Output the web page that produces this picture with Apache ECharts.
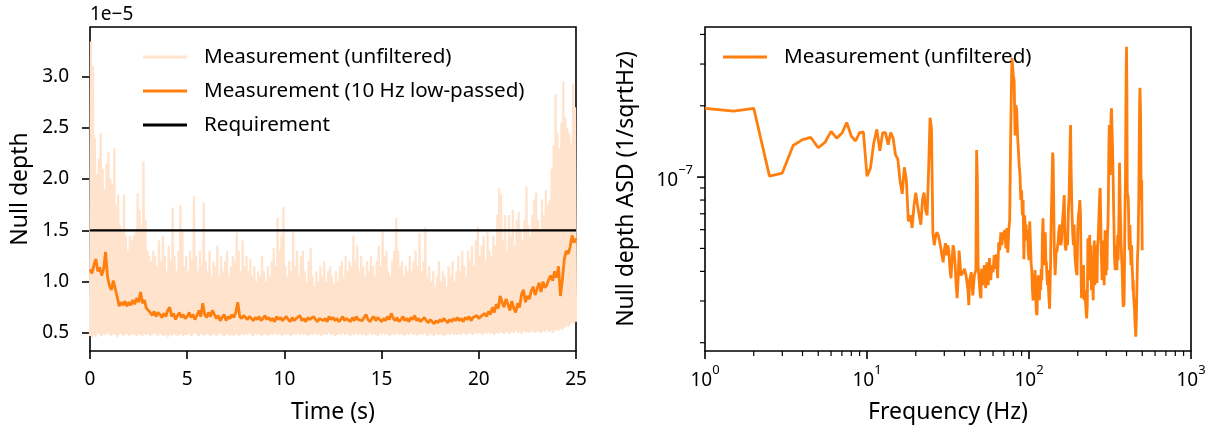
<!DOCTYPE html>
<html><head><meta charset="utf-8">
<script src="https://cdn.jsdelivr.net/npm/echarts@6/dist/echarts.min.js"></script>
<style>html,body{margin:0;padding:0;background:#fff}#c{width:1211px;height:434px}</style>
</head><body><div id="c"></div>
<script>
// ---------- Left panel: null depth time series (values in units of 1e-5) ----------
const timeRange = [0, 25];
const timeTicks = [0, 5, 10, 15, 20, 25];
const nullTicks = [0.5, 1.0, 1.5, 2.0, 2.5, 3.0];
const requirement = 1.5;
const dtUnf = 0.1;   // spacing of envelope samples (s)
const dtFilt = 0.1;  // spacing of low-passed samples (s)

// unfiltered measurement: low excursions (at t = i*0.1) ...
const unfLow = [
0.47,0.45,0.48,0.46,0.50,0.48,0.47,0.49,0.48,0.50,
0.48,0.47,0.49,0.48,0.46,0.48,0.49,0.47,0.48,0.49,
0.47,0.48,0.49,0.48,0.47,0.49,0.48,0.47,0.49,0.48,
0.49,0.47,0.48,0.50,0.48,0.47,0.49,0.48,0.47,0.48,
0.46,0.48,0.47,0.49,0.48,0.47,0.48,0.49,0.47,0.48,
0.48,0.49,0.47,0.48,0.50,0.48,0.47,0.49,0.48,0.47,
0.49,0.48,0.47,0.48,0.49,0.47,0.48,0.50,0.48,0.47,
0.48,0.49,0.47,0.48,0.47,0.49,0.48,0.47,0.49,0.48,
0.49,0.48,0.50,0.48,0.47,0.49,0.48,0.49,0.47,0.48,
0.49,0.48,0.47,0.49,0.48,0.50,0.48,0.49,0.48,0.47,
0.49,0.48,0.49,0.47,0.48,0.49,0.48,0.50,0.48,0.49,
0.48,0.49,0.47,0.48,0.49,0.48,0.50,0.48,0.49,0.47,
0.48,0.49,0.48,0.50,0.48,0.49,0.47,0.48,0.49,0.48,
0.50,0.48,0.49,0.48,0.47,0.49,0.48,0.50,0.48,0.49,
0.48,0.49,0.47,0.48,0.50,0.48,0.49,0.48,0.47,0.49,
0.48,0.50,0.48,0.49,0.47,0.48,0.49,0.48,0.50,0.48,
0.49,0.48,0.47,0.49,0.48,0.50,0.48,0.49,0.47,0.48,
0.49,0.48,0.50,0.48,0.47,0.49,0.48,0.47,0.49,0.48,
0.48,0.49,0.47,0.48,0.49,0.48,0.50,0.48,0.49,0.48,
0.49,0.48,0.50,0.49,0.48,0.50,0.49,0.48,0.50,0.49,
0.50,0.49,0.48,0.50,0.49,0.51,0.49,0.50,0.48,0.50,
0.49,0.51,0.50,0.49,0.51,0.50,0.49,0.51,0.50,0.52,
0.50,0.51,0.49,0.52,0.50,0.51,0.50,0.52,0.51,0.50,
0.52,0.51,0.50,0.52,0.51,0.53,0.51,0.52,0.50,0.52,
0.53,0.52,0.54,0.53,0.55,0.57,0.56,0.58,0.60,0.59,
0.61];
// ... and high excursions (at t = i*0.1 + 0.05)
const unfHigh = [
3.34,3.10,2.40,2.05,2.20,2.45,2.10,1.90,2.15,2.26,
2.00,1.95,2.30,1.75,1.85,1.55,1.50,1.85,1.45,1.30,
1.45,1.40,1.45,1.50,1.86,1.70,1.55,2.17,1.60,1.30,
1.25,1.20,1.30,1.25,1.15,1.40,1.20,1.45,1.25,1.10,
1.35,1.20,1.72,1.25,1.10,1.30,1.75,1.50,1.15,1.25,
1.10,1.30,1.20,1.83,1.25,1.10,1.30,1.15,1.77,1.20,
1.10,1.30,1.05,1.20,1.15,1.35,1.05,1.25,1.10,1.20,
1.30,1.05,1.15,1.25,1.20,1.48,1.30,1.10,1.40,1.15,
1.25,1.10,1.22,1.05,1.15,1.00,1.10,1.05,1.25,1.10,
1.00,1.15,1.05,1.20,1.33,1.15,1.62,1.30,1.45,1.73,
1.15,1.05,1.20,1.10,1.48,1.15,1.30,1.05,1.25,1.30,
1.10,1.00,1.20,1.33,1.05,0.95,1.10,1.00,1.15,1.05,
1.20,1.00,1.10,1.15,1.05,0.98,1.10,1.00,1.15,1.20,
1.05,1.25,1.10,1.20,1.15,1.45,1.20,1.36,1.10,1.25,
1.15,1.05,1.20,1.10,1.25,1.15,1.05,1.20,1.35,1.15,
1.50,1.25,1.30,1.10,1.05,1.20,1.30,1.62,1.30,1.15,
1.20,1.05,1.15,1.10,1.25,1.10,1.20,1.30,1.15,1.47,
1.10,1.20,1.53,1.05,1.15,1.00,1.10,0.95,1.05,1.20,
1.00,1.10,1.05,0.95,1.15,1.05,1.20,1.00,1.10,1.25,
1.10,1.30,1.15,1.05,1.30,1.20,1.35,1.15,1.40,1.53,
1.25,1.35,1.45,1.20,1.50,1.30,1.25,1.45,1.35,1.65,
1.91,1.85,1.40,1.65,1.30,1.65,1.45,1.70,1.35,1.60,
1.68,1.50,1.40,1.60,1.93,1.55,1.45,1.65,1.80,1.87,
1.60,1.50,1.80,1.65,1.89,1.75,1.80,2.10,2.33,2.83,
2.45,2.30,2.55,2.95,2.60,2.50,2.45,2.35,2.93,2.70];

// 10 Hz low-passed measurement (t = i*0.1)
const filtered = [
1.12,1.08,1.16,1.22,1.10,1.14,1.06,1.12,1.29,1.05,
0.96,0.92,1.01,0.93,0.85,0.76,0.80,0.77,0.81,0.76,
0.80,0.77,0.82,0.78,0.84,0.80,0.90,0.79,0.82,0.74,
0.72,0.70,0.67,0.71,0.66,0.70,0.68,0.65,0.69,0.66,
0.72,0.75,0.66,0.69,0.63,0.67,0.70,0.65,0.68,0.64,
0.66,0.70,0.65,0.68,0.63,0.67,0.72,0.66,0.79,0.68,
0.65,0.70,0.66,0.72,0.68,0.64,0.67,0.62,0.65,0.68,
0.62,0.66,0.64,0.68,0.65,0.70,0.80,0.66,0.64,0.67,
0.65,0.63,0.66,0.64,0.62,0.65,0.63,0.66,0.62,0.64,
0.67,0.63,0.65,0.62,0.64,0.61,0.66,0.63,0.65,0.62,
0.64,0.66,0.63,0.61,0.65,0.62,0.64,0.63,0.67,0.62,
0.64,0.61,0.65,0.63,0.62,0.66,0.63,0.61,0.64,0.65,
0.62,0.64,0.61,0.66,0.63,0.65,0.62,0.64,0.61,0.63,
0.66,0.62,0.64,0.63,0.61,0.65,0.62,0.66,0.63,0.64,
0.62,0.65,0.68,0.63,0.61,0.64,0.66,0.62,0.65,0.63,
0.61,0.64,0.62,0.66,0.63,0.69,0.64,0.62,0.65,0.61,
0.63,0.66,0.62,0.64,0.61,0.65,0.63,0.67,0.62,0.64,
0.61,0.63,0.65,0.62,0.60,0.63,0.61,0.59,0.62,0.60,
0.63,0.61,0.64,0.62,0.60,0.63,0.61,0.64,0.62,0.65,
0.62,0.64,0.61,0.65,0.63,0.66,0.62,0.65,0.64,0.67,
0.64,0.66,0.65,0.69,0.66,0.71,0.68,0.75,0.70,0.78,
0.74,0.86,0.80,0.75,0.83,0.78,0.72,0.81,0.74,0.70,
0.79,0.75,0.88,0.92,0.80,0.86,0.83,0.91,0.95,0.87,
0.93,0.99,0.90,1.00,0.94,0.97,1.02,1.06,1.01,1.10,
1.04,1.15,0.86,1.02,1.22,1.30,1.27,1.34,1.45,1.38,
1.42];

// ---------- Right panel: amplitude spectral density ----------
const freqHz = [
1,1.5,2,2.5,3,3.5,4,4.5,5,5.5,
6,6.5,7,7.5,8,8.5,9,9.5,10,10.5,
11,11.5,12,12.5,13,13.5,14,14.5,15,15.5,
16,16.5,17,17.5,18,18.5,19,19.5,20,20.5,
21,21.5,22,22.5,23,23.5,24,24.5,25,25.5,
26,26.5,27,27.5,28,28.5,29,29.5,30,30.5,
31,31.5,32,32.5,33,33.5,34,34.5,35,35.5,
36,36.5,37,37.5,38,39,40,41,42,42.5,
43,44,45,46,47,47.5,48,48.5,49,50,
50.5,51,52,53,54,55,56,57,58,59,
60,61,62,63,64,65,66,67,68,69,
70,71,72,73,74,75,76,77,78,78.5,
79,80,81,82,83,84,85,86,87,88,
89,90,91,92,93,94,95,96,97,98,
99,100,101,102,103,104,105,106,107,108,
109,110,111,112,113,114,115,116,117,118,
119,120,121,122,123,124,125,126,127,128,
129,130,131,132,133,134,135,136,137,138,
139,140,141,142,143,144,145,147,149,151,
153,155,157,159,161,163,165,167,169,171,
173,175,177,179,180.5,182,184,186,188,190,
192,194,196,198,200,202,204,206,208,210,
211,213,215,217,219,221,223,225,227,229,
231,233,235,237,239,241,243,245,247,249,
251,253,255,257,259,261,263,265,267,269,
271,273,275,277,279,281,283,285,287,289,
291,293,295,297,299,301,303,305,307,309,
311,313,315,317,319,321,323,325,327,329,
331,333,335,337,339,341,343,345,347,349,
351,353,355,357,359,361,362,364,366,368,
370,372,374,376,378,380,382,384,386,388,
390,392,394,396,398,400,402,404,406,408,
410,412,414,416,418,420,422,424,426,428,
430,432,434,436,438,440,442,444,446,448,
450,452,454,456,458,460,462,464,466,468,
470,472,474,476,478,480,482,484,486,488,
490,492,494,496,498,500];
// ASD in units of 1e-8 / sqrt(Hz)
const asdE8 = [
19.5,19.0,19.5,10.1,10.4,13.6,14.4,14.7,13.3,14.0,
15.6,14.6,15.3,17.0,14.9,14.2,15.4,15.5,10.1,10.9,
13.9,15.9,12.9,15.4,15.4,13.7,15.4,14.6,12.4,11.9,
9.6,8.5,11.0,9.7,6.5,6.9,6.1,7.6,8.6,7.6,
6.9,6.3,8.0,8.6,7.25,6.9,10.7,17.8,16.1,5.85,
5.16,5.6,5.85,5.7,5.4,5.06,4.68,4.37,4.91,5.26,
4.68,5.16,4.9,4.1,3.74,4.46,5.16,4.9,4.25,3.5,
3.08,3.67,4.9,4.37,3.85,3.93,4.1,3.8,3.33,2.88,
3.67,3.97,3.17,3.85,4.05,13.0,9.7,4.25,3.85,3.17,
3.08,4.1,3.5,4.25,3.4,4.37,3.5,4.55,3.67,4.25,
3.97,4.68,4.1,4.72,3.74,5.31,4.91,5.85,5.16,5.69,
5.6,5.97,5.0,6.1,4.8,5.97,6.58,14.3,25.7,31.8,
31.3,27.0,25.4,15.0,20.1,19.2,15.0,13.0,11.2,10.2,
8.0,8.8,6.9,8.0,4.5,6.9,5.97,6.3,5.4,5.97,
4.8,4.46,6.5,5.4,4.37,4.05,3.33,3.02,3.85,3.57,
4.05,3.17,2.7,2.61,3.33,3.85,3.6,3.02,3.74,3.33,
4.1,3.67,5.69,6.7,5.16,4.25,4.68,5.85,4.46,4.37,
3.85,3.5,4.05,3.33,3.02,2.78,2.83,4.46,6.58,8.0,
10.2,12.7,11.8,8.0,5.4,4.37,3.85,4.8,4.9,5.3,
5.97,6.3,5.16,5.4,6.5,7.25,8.4,5.16,4.9,5.8,
5.16,7.25,8.4,13.0,16.6,10.7,7.25,5.85,5.16,6.3,
4.68,4.25,3.97,3.85,5.97,6.9,7.25,8.0,6.9,3.67,
3.08,4.05,3.5,4.25,3.02,3.33,3.02,2.74,2.53,2.88,
5.52,4.91,3.97,5.69,3.67,5.16,3.33,4.25,3.85,3.02,
4.46,5.4,3.5,4.91,4.05,5.16,3.57,5.16,5.42,6.27,
7.25,8.4,9.0,6.9,4.91,4.25,3.67,5.4,4.05,4.68,
3.5,4.91,5.97,4.46,3.85,5.16,4.05,5.69,6.27,8.0,
13.0,16.6,14.3,10.2,14.3,18.3,19.5,16.6,14.3,11.8,
9.7,7.25,5.97,4.68,4.25,4.05,4.46,5.16,4.55,4.05,
4.91,5.69,4.46,5.42,6.9,9.7,11.5,9.25,7.25,6.27,
5.16,4.91,4.37,4.05,3.5,3.02,2.83,3.33,2.88,3.67,
5.97,8.0,9.7,17.4,28.3,35.5,23.3,8.8,8.2,8.4,
8.0,6.9,5.42,4.91,5.97,6.27,5.42,4.68,4.25,4.91,
5.16,4.46,4.05,3.85,3.33,3.67,3.17,3.02,2.88,2.74,
2.53,2.37,2.26,2.12,2.15,2.49,3.02,3.5,4.05,4.68,
4.91,5.42,6.9,8.0,11.8,15.8,21.1,23.8,24.0,19.2,
13.0,8.8,8.0,9.7,6.58,4.91];
const freqRange = [1, 1000];
const asdRange = [1.845e-8, 4.3e-7];
const asdMinorTicks = [2e-8,3e-8,4e-8,5e-8,6e-8,7e-8,8e-8,9e-8,2e-7,3e-7,4e-7];
const asdMajorTicks = [1e-7];

// ---------- build ----------
const FONT = 'Noto Sans';
const ORANGE = '#ff7f0e';
const PALE = '#ffe3cc';
const TICK = 19, LABEL = 23, LEG = 20.6;

const unfData = [];
for (let i = 0; i < unfLow.length; i++) {
  unfData.push([i * dtUnf, unfLow[i]]);
  if (i < unfHigh.length) unfData.push([i * dtUnf + dtUnf / 2, unfHigh[i]]);
}
const filtData = filtered.map((v, i) => [i * dtFilt, v]);
const reqData = [[timeRange[0], requirement], [timeRange[1], requirement]];
const asdData = freqHz.map((f, i) => [f, asdE8[i] * 1e-8]);

const supRich = {
  b: {fontFamily: FONT, fontSize: TICK, color: '#000', fill: '#000', lineHeight: 26, verticalAlign: 'bottom'},
  s: {fontFamily: FONT, fontSize: 13, color: '#000', fill: '#000', lineHeight: 13, verticalAlign: 'top'}
};
const sup = e => '{b|10}{s|' + String(e).replace('-', '\u2212') + '}';

const G1 = {left: 90, top: 27, width: 486, height: 324};
const G2 = {left: 705, top: 27, width: 486, height: 324};
const tickStyle = {show: true, length: 8, lineStyle: {color: '#000', width: 1.6}};
const axisText = {fontFamily: FONT, fontSize: TICK, color: '#000'};
const nameText = {fontFamily: FONT, fontSize: LABEL, color: '#000'};

const chart = echarts.init(document.getElementById('c'));
chart.setOption({
  animation: false,
  backgroundColor: '#fff',
  grid: [
    Object.assign({show: true, borderColor: '#000', borderWidth: 1.6, backgroundColor: 'transparent'}, G1),
    Object.assign({show: true, borderColor: '#000', borderWidth: 1.6, backgroundColor: 'transparent'}, G2)
  ],
  xAxis: [
    {gridIndex: 0, type: 'value', min: timeRange[0], max: timeRange[1], interval: 5,
     axisLine: {show: false}, splitLine: {show: false}, axisTick: tickStyle,
     axisLabel: Object.assign({margin: 19}, axisText),
     name: 'Time (s)', nameLocation: 'middle', nameGap: 50, nameTextStyle: nameText},
    {gridIndex: 1, type: 'log', logBase: 10, min: freqRange[0], max: freqRange[1],
     axisLine: {show: false}, splitLine: {show: false}, axisTick: tickStyle,
     axisLabel: {margin: 13, formatter: v => sup(Math.round(Math.log10(v))), rich: supRich},
     name: 'Frequency (Hz)', nameLocation: 'middle', nameGap: 50, nameTextStyle: nameText}
  ],
  yAxis: [
    {gridIndex: 0, type: 'value', min: 0.324, max: 3.482,
     axisLine: {show: false}, splitLine: {show: false},
     axisTick: Object.assign({customValues: nullTicks}, tickStyle),
     axisLabel: Object.assign({customValues: nullTicks, margin: 21, formatter: v => v.toFixed(1)}, axisText),
     name: 'Null depth', nameLocation: 'middle', nameGap: 58, nameTextStyle: nameText},
    {gridIndex: 1, type: 'log', logBase: 10, min: asdRange[0], max: asdRange[1],
     axisLine: {show: false}, splitLine: {show: false}, axisTick: {show: false}, axisLabel: {show: false},
     name: 'Null depth ASD (1/sqrtHz)', nameLocation: 'middle', nameGap: 67, nameTextStyle: nameText}
  ],
  legend: [
    {data: ['Measurement (unfiltered)', 'Measurement (10 Hz low-passed)', 'Requirement'],
     orient: 'vertical', left: 143, top: 46, padding: 0, icon: 'rect', itemWidth: 44, itemHeight: 3, itemGap: 12,
     selectedMode: false, textStyle: {fontFamily: FONT, fontSize: LEG, color: '#000', lineHeight: 22, padding: [0, 0, 0, 12]}},
    {data: ['asd'], formatter: () => 'Measurement (unfiltered)',
     orient: 'vertical', left: 723, top: 46, padding: 0, icon: 'rect', itemWidth: 44, itemHeight: 3,
     selectedMode: false, textStyle: {fontFamily: FONT, fontSize: LEG, color: '#000', lineHeight: 22, padding: [0, 0, 0, 12]}}
  ],
  series: [
    {name: 'Measurement (unfiltered)', type: 'line', xAxisIndex: 0, yAxisIndex: 0, data: unfData,
     symbol: 'none', color: PALE, lineStyle: {color: PALE, width: 2.2, join: 'bevel'}, sampling: null, z: 1},
    {name: 'Measurement (10 Hz low-passed)', type: 'line', xAxisIndex: 0, yAxisIndex: 0, data: filtData,
     symbol: 'none', color: ORANGE, lineStyle: {color: ORANGE, width: 2.8}, z: 2},
    {name: 'Requirement', type: 'line', xAxisIndex: 0, yAxisIndex: 0, data: reqData,
     symbol: 'none', color: '#000', lineStyle: {color: '#000', width: 2.4}, z: 3},
    {name: 'asd', type: 'line', xAxisIndex: 1, yAxisIndex: 1, data: asdData,
     symbol: 'none', color: ORANGE, lineStyle: {color: ORANGE, width: 2.8}, z: 2}
  ]
});

// log-axis minor ticks and the 10^-7 label, placed through the axes' own scales
const gr = [];
const xBottom = G2.top + G2.height;
for (const d of [1, 10, 100]) {
  for (let k = 2; k <= 9; k++) {
    const px = chart.convertToPixel({xAxisIndex: 1}, k * d);
    gr.push({type: 'line', shape: {x1: px, y1: xBottom, x2: px, y2: xBottom + 5}, style: {stroke: '#000', lineWidth: 1.2}, silent: true});
  }
}
for (const v of asdMinorTicks) {
  const py = chart.convertToPixel({yAxisIndex: 1}, v);
  gr.push({type: 'line', shape: {x1: G2.left - 5, y1: py, x2: G2.left, y2: py}, style: {stroke: '#000', lineWidth: 1.2}, silent: true});
}
for (const v of asdMajorTicks) {
  const py = chart.convertToPixel({yAxisIndex: 1}, v);
  gr.push({type: 'line', shape: {x1: G2.left - 8, y1: py, x2: G2.left, y2: py}, style: {stroke: '#000', lineWidth: 1.6}, silent: true});
  gr.push({type: 'text', x: G2.left - 12, y: py, silent: true,
    style: {text: sup(Math.round(Math.log10(v))), rich: supRich, align: 'right', verticalAlign: 'middle'}});
}
gr.push({type: 'text', left: 90, top: 5, silent: true,
  style: {text: '1e\u22125', fontFamily: FONT, fontSize: TICK, fill: '#000'}});
chart.setOption({graphic: gr});
</script>
</body></html>
